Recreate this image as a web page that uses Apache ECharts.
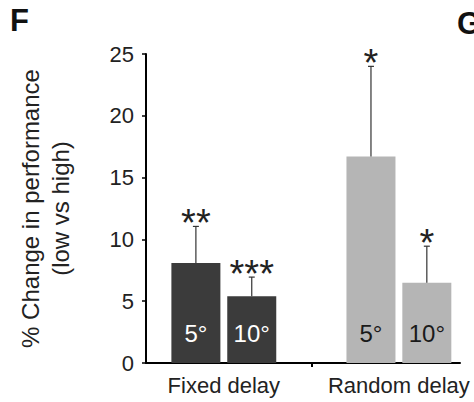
<!DOCTYPE html>
<html>
<head>
<meta charset="utf-8">
<script src="https://cdn.jsdelivr.net/npm/echarts@6/dist/echarts.min.js"></script>
<style>
html,body{margin:0;padding:0;background:#fff;}
#chart{width:474px;height:402px;}
</style>
</head>
<body>
<div id="chart"></div>
<script>
// ---- data ----
const categories = ['Fixed delay', 'Random delay'];
const conditions = ['5°', '10°'];
const values5 = [8.1, 16.7];
const values10 = [5.4, 6.5];
const errors5 = [2.95, 7.3];
const errors10 = [1.55, 2.95];
const stars5 = ['**', '*'];
const stars10 = ['***', '*'];
const yMin = 0, yMax = 25, yInterval = 5;
const yTitle = '% Change in performance\n(low vs high)';
const panelLetters = ['F', 'G'];

// ---- style / layout ----
const FONT = 'Liberation Sans, Arial, sans-serif';
const darkColor = '#3b3b3b';
const lightColor = '#b5b5b5';
const BAR_W = 49;
const GAP_PCT = 14;
const GAP_PX = BAR_W * GAP_PCT / 100;
const half = (BAR_W + GAP_PX) / 2;
const xMin = 0.111, xMax = 3.698;

const catPos = categories.map((c, i) => 2 * i + 1);
const sepPos = [2];

const chart = echarts.init(document.getElementById('chart'), null, {renderer: 'svg'});

function barData(vals) {
  return vals.map((v, i) => ({
    value: [catPos[i], v],
    itemStyle: {color: i === 0 ? darkColor : lightColor},
    label: {color: i === 0 ? '#ffffff' : '#1a1a1a'}
  }));
}
function errData(vals, errs) {
  return vals.map((v, i) => [catPos[i], v, errs[i], i]);
}
function makeErr(seriesOffsetSign, stars) {
  return function (params, api) {
    const x = api.value(0), v = api.value(1), e = api.value(2), idx = api.value(3);
    const p0 = api.coord([x, v]);
    const p1 = api.coord([x, v + e]);
    const cx = p0[0] + seriesOffsetSign * half;
    const cap = 3;
    return {
      type: 'group',
      children: [
        {type: 'line', shape: {x1: cx, y1: p0[1], x2: cx, y2: p1[1]}, style: {stroke: '#333', lineWidth: 1.2}},
        {type: 'line', shape: {x1: cx - cap, y1: p1[1], x2: cx + cap, y2: p1[1]}, style: {stroke: '#333', lineWidth: 1.2}},
        {type: 'text', style: {text: stars[idx], x: cx, y: p1[1] - 3, align: 'center', verticalAlign: 'middle', font: '38px ' + FONT, fill: '#222'}}
      ]
    };
  };
}

const option = {
  backgroundColor: '#fff',
  animation: false,
  grid: {left: 146, right: 14, top: 54, bottom: 39, containLabel: false},
  xAxis: {
    type: 'value', min: xMin, max: xMax,
    splitLine: {show: false},
    axisLine: {show: true, lineStyle: {color: '#000', width: 2}},
    axisTick: {show: true, customValues: sepPos, length: 4, lineStyle: {color: '#000', width: 2}},
    axisLabel: {
      customValues: catPos, margin: 11, fontSize: 22, fontFamily: FONT, color: '#222',
      formatter: (v) => categories[Math.round((v - 1) / 2)] || ''
    }
  },
  yAxis: {
    type: 'value', min: yMin, max: yMax, interval: yInterval,
    splitLine: {show: false},
    axisLine: {show: true, lineStyle: {color: '#000', width: 2}},
    axisTick: {show: true, length: 4, lineStyle: {color: '#000', width: 1.5}},
    axisLabel: {margin: 12, fontSize: 22, fontFamily: FONT, color: '#222'},
    name: yTitle, nameLocation: 'middle', nameGap: 71, nameRotate: 90,
    nameTextStyle: {fontSize: 24, fontFamily: FONT, color: '#222', lineHeight: 30, align: 'center'}
  },
  series: [
    {
      type: 'bar', name: conditions[0], data: barData(values5), barWidth: BAR_W, barGap: GAP_PCT + '%',
      label: {show: true, position: 'insideBottom', distance: 18, formatter: conditions[0], fontSize: 24, fontFamily: FONT}
    },
    {
      type: 'bar', name: conditions[1], data: barData(values10), barWidth: BAR_W, barGap: GAP_PCT + '%',
      label: {show: true, position: 'insideBottom', distance: 18, formatter: conditions[1], fontSize: 24, fontFamily: FONT}
    },
    {type: 'custom', renderItem: makeErr(-1, stars5), data: errData(values5, errors5), z: 5},
    {type: 'custom', renderItem: makeErr(1, stars10), data: errData(values10, errors10), z: 5}
  ],
  graphic: [
    {type: 'text', left: 10, top: 5, style: {text: panelLetters[0], font: 'bold 31px ' + FONT, fill: '#111'}},
    {type: 'text', left: 457, top: 8, style: {text: panelLetters[1], font: 'bold 31px ' + FONT, fill: '#111'}}
  ]
};
chart.setOption(option);
</script>
</body>
</html>
